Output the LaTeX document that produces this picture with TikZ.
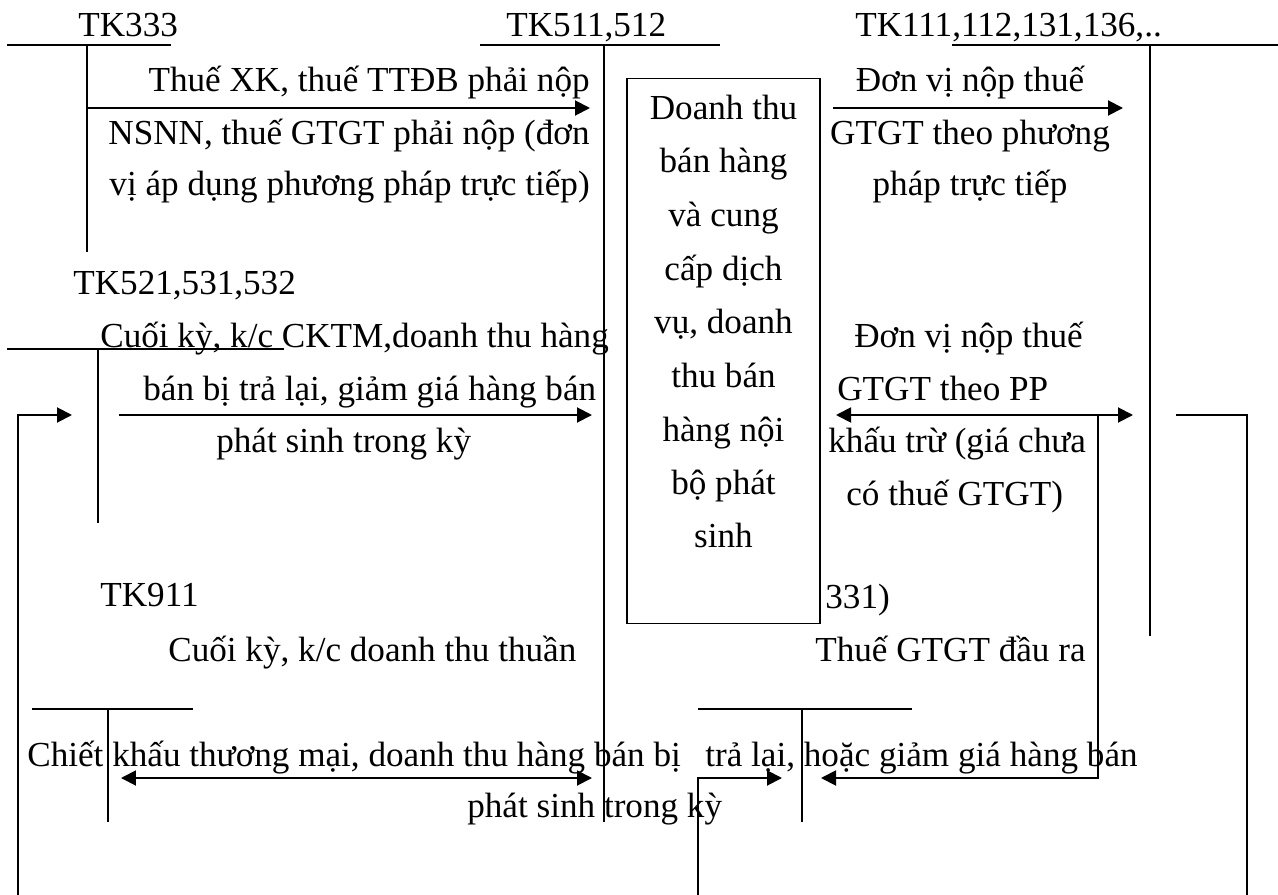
\documentclass[tikz,border=0pt]{standalone}
\usepackage{fontspec}
\setmainfont{Liberation Serif}
\usetikzlibrary{arrows.meta}

\begin{document}
\begin{tikzpicture}[x=0.02cm, y=-0.02cm,
    txt/.style={font=\fontsize{20}{30}\selectfont, inner sep=0pt, anchor=base west},
    tacc/.style={line width=0.75pt},
    wire/.style={line width=1.1pt},
    arr/.style={wire, -{Triangle[length=0.3cm, width=0.3cm]}},
    darr/.style={wire, {Triangle[length=0.3cm, width=0.3cm]}-{Triangle[length=0.3cm, width=0.3cm]}}]
    \useasboundingbox (0,0) rectangle (1278,895);

    % T accounts (top row)
    \node[txt] (tk333) at (78,37) {TK333};
    \draw[tacc] (7,45) -- (171,45) (87,45) -- (87,252);
    \node[txt] (tk511) at (506,37) {TK511,512};
    \draw[tacc] (480,45) -- (720,45) (604,45) -- (604,822);
    \node[txt] (tk111) at (855,37) {TK111,112,131,136,..};
    \draw[tacc] (952,45) -- (1278,45) (1150,45) -- (1150,636);

    % Central box
    \node[draw, line width=0.6pt, minimum width=3.86cm, minimum height=10.92cm, inner sep=0pt] (dtbox) at (723.5,351) {};
    \node[txt, anchor=base] (dt1) at (723.5,120) {Doanh thu};
    \node[txt, anchor=base] (dt2) at (723.5,173) {bán hàng};
    \node[txt, anchor=base] (dt3) at (723.5,227) {và cung};
    \node[txt, anchor=base] (dt4) at (723.5,280) {cấp dịch};
    \node[txt, anchor=base] (dt5) at (723.5,334) {vụ, doanh};
    \node[txt, anchor=base] (dt6) at (723.5,387) {thu bán};
    \node[txt, anchor=base] (dt7) at (723.5,441) {hàng nội};
    \node[txt, anchor=base] (dt8) at (723.5,494) {bộ phát};
    \node[txt, anchor=base] (dt9) at (723.5,547) {sinh};

    % TK333 -> TK511
    \coordinate (a1s) at (87,108);
    \coordinate (a1e) at (590,108);
    \draw[arr] (a1s) -- (a1e);
    \node[txt, anchor=base east] (t1a) at (590,92) {Thuế XK, thuế TTĐB phải nộp};
    \node[txt, anchor=base east] (t1b) at (590,145) {NSNN, thuế GTGT phải nộp (đơn};
    \node[txt, anchor=base east] (t1c) at (590,196) {vị áp dụng phương pháp trực tiếp)};

    % box -> TK111 (truc tiep)
    \coordinate (a2s) at (833,108);
    \coordinate (a2e) at (1123,108);
    \draw[arr] (a2s) -- (a2e);
    \node[txt, anchor=base] (t2a) at (970,92) {Đơn vị nộp thuế};
    \node[txt, anchor=base] (t2b) at (970,145) {GTGT theo phương};
    \node[txt, anchor=base] (t2c) at (970,196) {pháp trực tiếp};

    % TK521,531,532
    \node[txt] (tk521) at (73,295) {TK521,531,532};
    \draw[tacc] (7,349) -- (284,349) (98,349) -- (98,523);
    \coordinate (a3s) at (119,415);
    \coordinate (a3e) at (592,415);
    \draw[arr] (a3s) -- (a3e);
    \node[txt] (t3a) at (100,347) {Cuối kỳ, k/c CKTM,doanh thu hàng};
    \node[txt] (t3b) at (143,400) {bán bị trả lại, giảm giá hàng bán};
    \node[txt] (t3c) at (216,452) {phát sinh trong kỳ};

    % left loop into TK521
    \coordinate (lls) at (18,895);
    \coordinate (lle) at (72,415);
    \draw[arr] (lls) |- (lle);

    % khau tru (right)
    \coordinate (a4s) at (836,415);
    \coordinate (a4e) at (1133,415);
    \coordinate (a4m) at (1098,415);
    \draw[darr] (a4s) -- (a4e);
    \node[txt] (t4a) at (854,347) {Đơn vị nộp thuế};
    \node[txt] (t4b) at (837,400) {GTGT theo PP};
    \node[txt] (t4c) at (828,452) {khấu trừ (giá chưa};
    \node[txt] (t4d) at (846,505) {có thuế GTGT)};
    \node[txt] (t331) at (825,608) {331)};
    \node[txt] (t5) at (815,661) {Thuế GTGT đầu ra};
    \coordinate (a5e) at (821,778);
    \draw[arr] (a4m) |- (a5e);

    % right loop
    \coordinate (rls) at (1176,415);
    \coordinate (rle) at (1247,895);
    \draw[wire] (rls) -| (rle);

    % TK911
    \node[txt] (tk911) at (100,606) {TK911};
    \node[txt] (t6) at (168,661) {Cuối kỳ, k/c doanh thu thuần};
    \draw[tacc] (32,709) -- (193,709) (108,709) -- (108,822);
    \coordinate (a6s) at (121,778);
    \coordinate (a6e) at (592,778);
    \draw[darr] (a6s) -- (a6e);

    % T account (bottom right)
    \draw[tacc] (698,709) -- (912,709) (802,709) -- (802,822);
    \coordinate (a7s) at (698,895);
    \coordinate (a7e) at (782,778);
    \draw[arr] (a7s) |- (a7e);

    % bottom texts
    \node[txt] (t7a) at (27,766) {Chiết khấu thương mại, doanh thu hàng bán bị};
    \node[txt] (t7b) at (705,766) {trả lại, hoặc giảm giá hàng bán};
    \node[txt] (t7c) at (467,817) {phát sinh trong kỳ};
\end{tikzpicture}
\end{document}
